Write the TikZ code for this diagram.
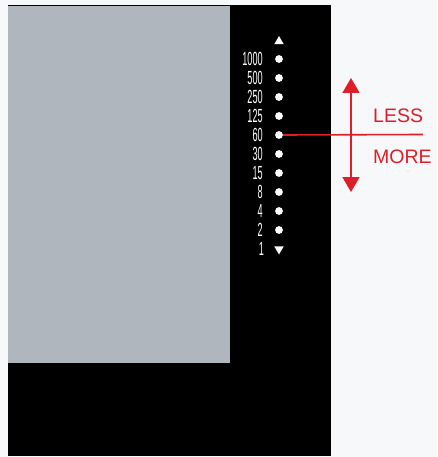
\documentclass[tikz,border=0pt]{standalone}
\usepackage{fontspec}
\setsansfont{Liberation Sans}
\newfontfamily\estrecha[FakeStretch=0.48]{Liberation Sans}
\usepackage{tikz}
\usetikzlibrary{arrows.meta, positioning, shapes.geometric}
\definecolor{papel}{RGB}{246,248,250}
\definecolor{gris}{RGB}{176,182,190}
\definecolor{rojo}{RGB}{222,30,40}
\tikzset{
  punto/.style={circle, fill=white, minimum size=7.8pt, inner sep=0pt},
  tope/.style={regular polygon, regular polygon sides=3, fill=white,
    minimum size=11pt, inner sep=0pt},
  velocidad/.style={text=white, inner sep=0pt,
    font=\estrecha\fontsize{19}{19}\selectfont},
  rotulo/.style={anchor=west, text=rojo, inner sep=0pt,
    font=\sffamily\fontsize{19.5}{19.5}\selectfont},
  linea/.style={draw=rojo, line width=1.6pt},
  flecha/.style={linea, {Triangle[length=15pt,width=17pt]}-{Triangle[length=15pt,width=17pt]}}
}
\begin{document}
\begin{tikzpicture}[x=1pt, y=-1pt]
  \fill[papel] (0,0) rectangle (437,457);
  \fill[black] (8,5) rectangle (331,456);
  \fill[gris] (8,6) rectangle (230,363);
  % escala de velocidades
  \node[tope] (arriba) at (279,41.5) {};
  \foreach \v [count=\i] in {1000,500,250,125,60,30,15,8,4,2}{
    \node[punto] (p\v) at (279,40+19*\i) {};
    \node[velocidad, left=12pt of p\v] (t\v) {\v};
  }
  \node[tope, shape border rotate=180] (abajo) at (279,249) {};
  \node[velocidad, left=11.5pt of abajo] (t1) {1};
  % indicador
  \coordinate (fin) at (423,134.5);
  \draw[linea] (p60.east) -- (fin);
  \coordinate (sube) at (351,78);
  \coordinate (baja) at (351,192);
  \draw[flecha] (sube) -- (baja);
  \node[rotulo] (less) at (373,116) {LESS};
  \node[rotulo] (more) at (373,157) {MORE};
\end{tikzpicture}
\end{document}
